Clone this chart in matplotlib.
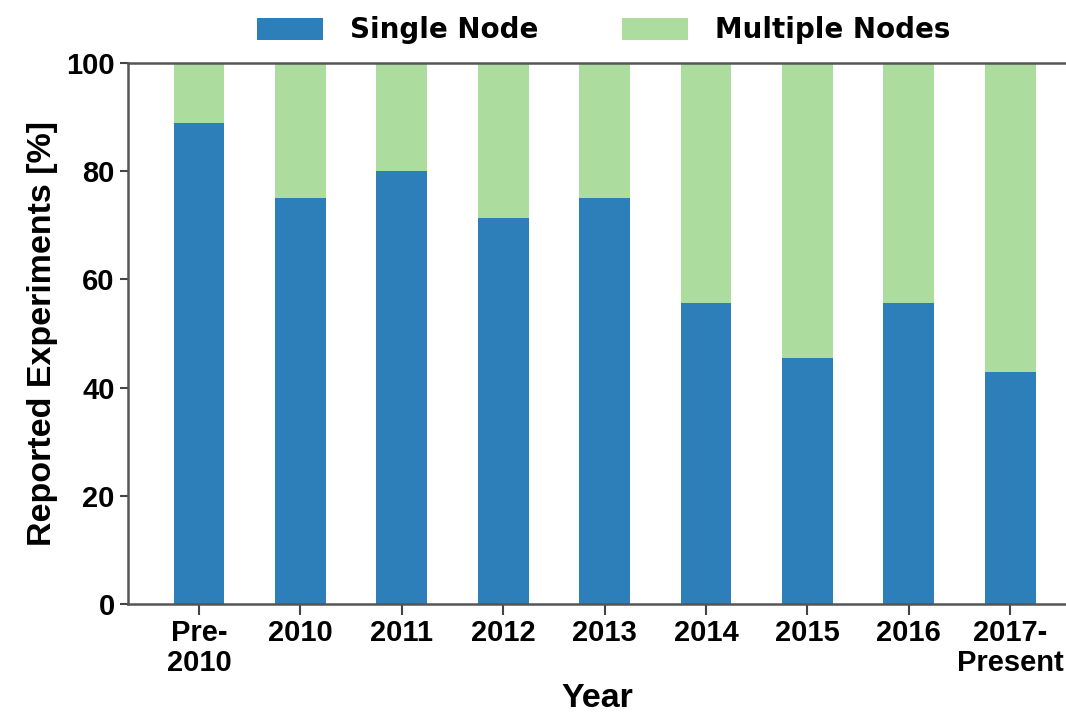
import numpy as np
import matplotlib
matplotlib.use('Agg')
import matplotlib.pyplot as plt

plt.rcParams['font.family'] = ['Liberation Sans', 'DejaVu Sans']
plt.rcParams['font.weight'] = 'bold'

# data
years = ['Pre-\n2010', '2010', '2011', '2012', '2013', '2014', '2015', '2016', '2017-\nPresent']
single_node = [88.9, 75.0, 80.0, 71.4, 75.0, 55.6, 45.5, 55.6, 42.9]
multiple_nodes = [100 - v for v in single_node]

blue = '#2c7fb8'
green = '#addd9e'

fig = plt.figure(figsize=(10.66, 7.15), dpi=100)
ax = fig.add_axes([0.12, 0.155, 0.88, 0.757])

x = np.arange(len(years))
b1 = ax.bar(x, single_node, width=0.5, color=blue, label='Single Node')
b2 = ax.bar(x, multiple_nodes, width=0.5, bottom=single_node, color=green, label='Multiple Nodes')

ax.set_xlim(-0.7, 8.55)
ax.set_ylim(0, 100)
ax.set_xticks(x)
ax.set_xticklabels(years, fontsize=21, fontweight='bold', linespacing=1.05)
ax.set_yticks([0, 20, 40, 60, 80, 100])
ax.tick_params(axis='y', labelsize=21, length=6, width=1.5, color='#444444')
ax.tick_params(axis='x', length=8, width=1.5, color='#444444', pad=3)
for lab in ax.get_yticklabels():
    lab.set_fontweight('bold')

for side in ['left', 'bottom', 'top']:
    ax.spines[side].set_color('#555555')
    ax.spines[side].set_linewidth(1.8)
ax.spines['right'].set_visible(False)

ax.set_ylabel('Reported Experiments [%]', fontsize=24.5, fontweight='bold', labelpad=6)
ax.set_xlabel('Year', fontsize=24.5, fontweight='bold', labelpad=5)

fig.legend(handles=[b1, b2], loc='upper center', bbox_to_anchor=(0.566, 1.012), ncol=2,
           frameon=False, handlelength=2.4, handleheight=0.85, handletextpad=0.95,
           columnspacing=3.0, prop={'family': 'DejaVu Sans', 'weight': 'bold', 'size': 20})

fig.savefig('out.png', dpi=100)
